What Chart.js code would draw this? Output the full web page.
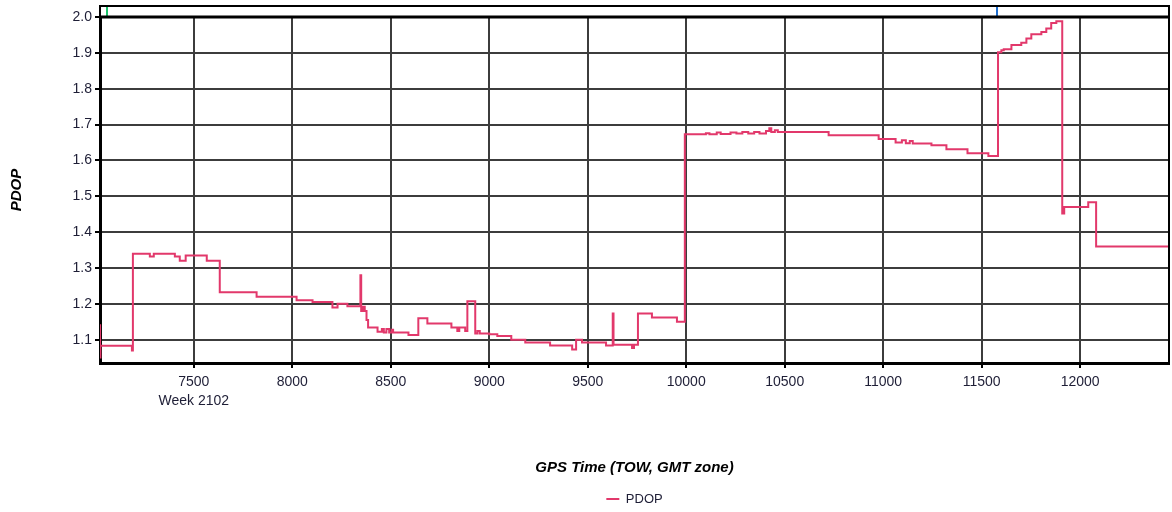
<!DOCTYPE html>
<html>
<head>
<meta charset="utf-8">
<title>PDOP</title>
<script src="https://cdn.jsdelivr.net/npm/chart.js@4.4.1/dist/chart.umd.min.js"></script>
<style>
    html, body { margin: 0; padding: 0; background: #fff; }
    .chart-box { width: 1172px; height: 512px; }
</style>
</head>
<body>
<div class="chart-box"><canvas id="pdopChart"></canvas></div>
<script>
// Data (GPS time of week in seconds, PDOP)
const gpsTime = [
    7018, 7024.5, 7026, 7186, 7191, 7277, 7297, 7404, 7429, 7459, 7566, 7632, 7819,
    8022, 8103, 8204, 8230, 8280, 8346, 8350, 8358, 8368, 8377, 8385, 8433, 8455,
    8465, 8478, 8492, 8505, 8512, 8590, 8640, 8686, 8808, 8838, 8848, 8878, 8889,
    8929, 8940, 8952, 9000, 9041, 9112, 9183, 9309, 9421, 9441, 9471, 9593, 9627,
    9631, 9725, 9735, 9755, 9826, 9953, 9993, 10100, 10118, 10155, 10175, 10225,
    10255, 10285, 10315, 10345, 10372, 10405, 10422, 10432, 10450, 10465, 10723,
    10977, 11063, 11095, 11115, 11135, 11150, 11245, 11321, 11428, 11534, 11583,
    11600, 11612, 11651, 11701, 11727, 11752, 11803, 11828, 11853, 11879, 11909,
    11919, 12041, 12081, 12460
];
const pdopValues = [
    1.14, 1.05, 1.083, 1.07, 1.34, 1.332, 1.34, 1.332, 1.32, 1.335, 1.32, 1.232, 1.22,
    1.21, 1.205, 1.19, 1.2, 1.193, 1.28, 1.18, 1.192, 1.18, 1.155, 1.134, 1.122, 1.13,
    1.12, 1.13, 1.12, 1.128, 1.12, 1.113, 1.16, 1.145, 1.134, 1.124, 1.134, 1.124, 1.207,
    1.117, 1.124, 1.117, 1.115, 1.11, 1.10, 1.092, 1.084, 1.073, 1.10, 1.092, 1.084, 1.173,
    1.086, 1.077, 1.086, 1.173, 1.162, 1.15, 1.673, 1.676, 1.673, 1.678, 1.674, 1.678,
    1.675, 1.679, 1.675, 1.679, 1.675, 1.682, 1.69, 1.679, 1.684, 1.679, 1.670,
    1.660, 1.650, 1.656, 1.648, 1.654, 1.647, 1.642, 1.631, 1.620, 1.612, 1.902,
    1.907, 1.910, 1.922, 1.928, 1.940, 1.952, 1.958, 1.968, 1.983, 1.988, 1.452,
    1.470, 1.483, 1.360, 1.360
];

// Axis ticks
const xTicks = [7500, 8000, 8500, 9000, 9500, 10000, 10500, 11000, 11500, 12000];
const yTicks = [1.1, 1.2, 1.3, 1.4, 1.5, 1.6, 1.7, 1.8, 1.9, 2.0];
const weekLabel = 'Week 2102';

// Markers in the navigator strip above the plot
const markerTimes = [7059, 11580];
const markerColors = ['#19c46a', '#1f6fd1'];

const lineColor = '#e2386b';
const textColor = '#1e1e36';
const fontFamily = '"Liberation Sans", Arial, sans-serif';

// Frame + navigator strip
const framePlugin = {
    id: 'frame',
    afterDraw(chart) {
        const { ctx, chartArea: a } = chart;
        const xScale = chart.scales.x;
        ctx.save();
        // navigator strip
        ctx.strokeStyle = '#000';
        ctx.lineWidth = 2;
        ctx.strokeRect(a.left, a.top - 11, a.right - a.left, 11);
        markerTimes.forEach((t, i) => {
            const px = Math.round(xScale.getPixelForValue(t));
            ctx.fillStyle = markerColors[i];
            ctx.fillRect(px - 1, a.top - 10, 2, 9);
        });
        // plot frame
        ctx.lineWidth = 3;
        ctx.beginPath();
        ctx.moveTo(a.left, a.top);
        ctx.lineTo(a.right, a.top);
        ctx.stroke();
        ctx.lineWidth = 2;
        ctx.beginPath();
        ctx.moveTo(a.right, a.top - 11);
        ctx.lineTo(a.right, a.bottom);
        ctx.stroke();
        ctx.restore();
    }
};

// Fixed legend height
const legendFitPlugin = {
    id: 'legendFit',
    beforeInit(chart) {
        const origFit = chart.legend.fit;
        chart.legend.fit = function () {
            origFit.bind(chart.legend)();
            this.height = 27.5;
        };
    }
};

const ctx = document.getElementById('pdopChart').getContext('2d');
const pdopChart = new Chart(ctx, {
    type: 'line',
    data: {
        datasets: [{
            label: 'PDOP',
            data: gpsTime.map((t, i) => ({ x: t, y: pdopValues[i] })),
            borderColor: lineColor,
            backgroundColor: lineColor,
            borderWidth: 2,
            pointRadius: 0,
            stepped: true,
            fill: false
        }]
    },
    options: {
        responsive: true,
        maintainAspectRatio: false,
        animation: false,
        layout: {
            padding: { left: 0, top: 17, right: 3, bottom: 0 }
        },
        plugins: {
            tooltip: { enabled: false },
            legend: {
                position: 'bottom',
                fullSize: false,
                labels: {
                    usePointStyle: true,
                    pointStyle: 'line',
                    pointStyleWidth: 13,
                    padding: 8,
                    color: textColor,
                    font: { family: fontFamily, size: 13 }
                }
            }
        },
        scales: {
            x: {
                type: 'linear',
                min: 7024,
                max: 12451,
                afterBuildTicks: scale => {
                    scale.ticks = xTicks.map(v => ({ value: v }));
                },
                afterFit: scale => {
                    scale.height = 121.5;
                },
                grid: {
                    color: '#3c3c3c',
                    lineWidth: 2,
                    tickLength: 5,
                    tickColor: '#000'
                },
                border: { color: '#000', width: 3 },
                ticks: {
                    color: textColor,
                    padding: 4,
                    maxRotation: 0,
                    font: { family: fontFamily, size: 14, lineHeight: 1.4 },
                    callback: value => value === xTicks[0] ? [String(value), weekLabel] : String(value)
                },
                title: {
                    display: true,
                    text: 'GPS Time (TOW, GMT zone)',
                    color: '#000',
                    padding: { top: 0, bottom: 7.5 },
                    font: { family: fontFamily, size: 15, weight: 'bold', style: 'italic' }
                }
            },
            y: {
                min: 1.035,
                max: 2.0,
                afterBuildTicks: scale => {
                    scale.ticks = yTicks.map(v => ({ value: v }));
                },
                afterFit: scale => {
                    scale.width = 100;
                },
                grid: {
                    color: '#3c3c3c',
                    lineWidth: 2,
                    tickLength: 5,
                    tickColor: '#000'
                },
                border: { color: '#000', width: 3 },
                ticks: {
                    color: textColor,
                    padding: 3,
                    font: { family: fontFamily, size: 14 },
                    callback: value => value.toFixed(1)
                },
                title: {
                    display: true,
                    text: 'PDOP',
                    color: '#000',
                    padding: { top: 8, bottom: 0 },
                    font: { family: fontFamily, size: 15, weight: 'bold', style: 'italic' }
                }
            }
        }
    },
    plugins: [framePlugin, legendFitPlugin]
});
</script>
</body>
</html>
